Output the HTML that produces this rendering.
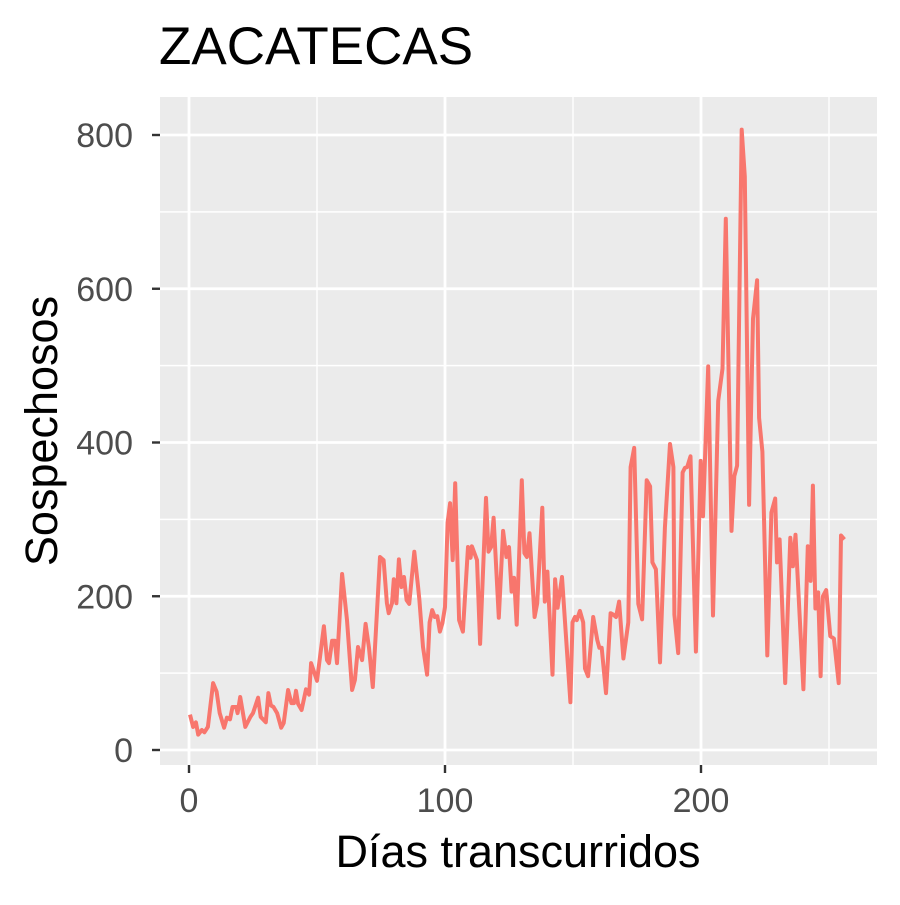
<!DOCTYPE html>
<html><head><meta charset="utf-8"><style>
body{margin:0;background:#fff;font-family:"Liberation Sans",sans-serif}
</style></head><body>
<svg id="c" width="900" height="900" xmlns="http://www.w3.org/2000/svg" font-family="Liberation Sans, sans-serif">
<rect width="900" height="900" fill="#fff"/>
<text x="159" y="64" font-size="53" fill="#000">ZACATECAS</text>
<rect x="160" y="97" width="717" height="668" fill="#ebebeb"/>
<g id="grid"></g>
<g id="axes"></g>
<path id="line" fill="none" stroke="#F8766D" stroke-width="4" stroke-linejoin="round"/>
<text x="518" y="867" font-size="45" text-anchor="middle" fill="#000">Días transcurridos</text>
<text transform="translate(57,431) rotate(-90)" font-size="45" text-anchor="middle" fill="#000">Sospechosos</text>
</svg>
<script>
const days=[0.4,1.6,2.7,3.6,5,6,7.4,9.4,10.8,12,13.7,14.8,16,17,18.4,19,20,22,24,25,27,28,30,31,32,33,34.4,36,37,38.7,40,41,41.8,42.6,44,45.7,46.9,47.7,50,52.7,53.9,54.7,55.9,57,57.8,59.8,61.7,63.7,64.8,66,67.6,69,70.3,71.8,74.6,76,77.3,78,79.3,80,81,82,83,84,85,86,88,89.5,90,91.4,93,94,95,96,97,98,99,100,101,102,103,104,105.5,107,109,110,110.5,112.5,113.7,116,117,118,119,121,122.7,124,125,126,127,128,130,131,132,133,135,136,138,139,140,142,143,144,145.7,149,149.8,150.8,151.5,152.7,154,154.7,155.9,157.9,159.5,160.3,161.2,162.9,164.7,165.8,166.8,168,169.7,171.6,172.5,173.9,175.5,177,178.8,180.1,181,182.4,184,185.9,187.9,189.2,189.6,191.1,192.8,193.7,194.6,195.9,198,199.9,200.8,202.8,204.7,206.7,208.4,209.7,211.9,213,214.1,215.9,217.1,218.8,220.3,221.9,222.7,224,225.9,227.5,229,229.7,230.7,232.9,234.9,235.9,236.9,240,241.7,242.8,243.7,244.7,245.8,246.7,247.6,248.9,250.5,251.9,253.8,254.7,256];
const sospechosos=[46,30,36,20,26,23,30,87,76,48,29,42,40,56,56,48,69,30,43,48,68,43,36,74,58,56,48,29,35,78,61,61,77,60,52,79,72,113,90,161,117,113,142,142,113,229,169,78,91,134,117,164,133,82,251,247,191,178,191,222,191,248,212,225,195,190,258,212,195,134,98,166,182,173,174,154,165,186,296,321,247,347,169,154,264,250,265,247,138,328,258,264,302,172,285,251,264,206,224,163,351,256,251,282,173,191,315,193,232,98,222,185,225,62,166,173,169,181,166,106,96,173,143,133,133,74,178,176,173,193,119,166,368,393,190,170,351,343,244,235,114,289,398,368,176,126,361,367,368,382,128,376,304,499,175,454,496,691,285,356,370,807,746,319,561,611,432,388,123,309,327,244,274,87,276,239,280,79,265,220,344,184,205,96,200,208,148,145,87,279,274];
const xTicks=[0,100,200], xMinor=[50,150,250];
const yTicks=[0,200,400,600,800], yMinor=[100,300,500,700];
const xs=d=>189+d*2.56, ys=v=>750-v*0.76875;
const NS="http://www.w3.org/2000/svg";
const grid=document.getElementById('grid'), axes=document.getElementById('axes');
function ln(p,x1,y1,x2,y2,c,w){const l=document.createElementNS(NS,'line');l.setAttribute('x1',x1);l.setAttribute('y1',y1);l.setAttribute('x2',x2);l.setAttribute('y2',y2);l.setAttribute('stroke',c);l.setAttribute('stroke-width',w);p.appendChild(l);return l;}
yMinor.forEach(v=>{const l=ln(grid,160,ys(v),877,ys(v),'#fff',1.4);

});
xMinor.forEach(v=>{const l=ln(grid,xs(v),97,xs(v),765,'#fff',1.4);

});
yTicks.forEach(v=>{const l=ln(grid,160,ys(v),877,ys(v),'#fff',2.8);


const t=ln(axes,152,ys(v),160,ys(v),'#333',2.4);


const tx=document.createElementNS(NS,'text');tx.setAttribute('x',133);tx.setAttribute('y',ys(v)+12);tx.setAttribute('text-anchor','end');tx.setAttribute('font-size','34');tx.setAttribute('fill','#4d4d4d');tx.textContent=v;


axes.appendChild(tx);});
xTicks.forEach(v=>{const l=ln(grid,xs(v),97,xs(v),765,'#fff',2.8);


const t=ln(axes,xs(v),765,xs(v),773,'#333',2.4);


const tx=document.createElementNS(NS,'text');tx.setAttribute('x',xs(v));tx.setAttribute('y',812);tx.setAttribute('text-anchor','middle');tx.setAttribute('font-size','34');tx.setAttribute('fill','#4d4d4d');tx.textContent=v;


axes.appendChild(tx);});
document.getElementById('line').setAttribute('d',days.map((d,i)=>(i?'L':'M')+xs(d).toFixed(1)+','+ys(sospechosos[i]).toFixed(1)).join(''));
</script>
</body></html>
